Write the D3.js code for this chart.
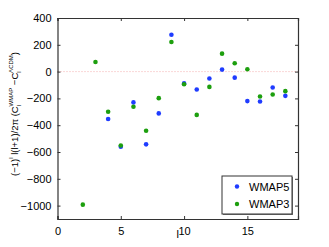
<!DOCTYPE html>
<meta charset="utf-8">
<style>

body {
  margin: 0;
  background: #fff;
}

text {
  font-family: "Liberation Sans", Arial, sans-serif;
  fill: #000;
}

.axis path, .axis line {
  stroke: #333;
}

</style>
<body>
<script src="https://d3js.org/d3.v7.min.js"></script>
<script>

var multipoles = [2, 3, 4, 5, 6, 7, 8, 9, 10, 11, 12, 13, 14, 15, 16, 17, 18];
// l=2,3 of WMAP5 sit under the WMAP3 dots and cannot be read
var wmap5 = [null, null, -354, -560, -230, -543, -312, 275, -88, -134, -52, 15, -45, -220, -223, -119, -181];
var wmap3 = [-993, 72, -300, -552, -262, -441, -198, 221, -94, -323, -114, 134, 62, 18, -186, -171, -146];
var xTicks = [0, 5, 10, 15];
var yTicks = [-1000, -800, -600, -400, -200, 0, 200, 400];

var width = 329,
    height = 247,
    margin = {top: 18, right: 31, bottom: 28, left: 57.5};

var x = d3.scaleLinear()
    .domain([0, 19])
    .range([margin.left, width - margin.right]);

var y = d3.scaleLinear()
    .domain([-1100, 400])
    .range([height - margin.bottom, margin.top]);

var svg = d3.select("body").append("svg")
    .attr("width", width)
    .attr("height", height)
    .style("display", "block");

// zero line
svg.append("line")
    .attr("x1", x(0)).attr("x2", x(19))
    .attr("y1", y(0)).attr("y2", y(0))
    .attr("stroke", "#f4b0b0")
    .attr("stroke-width", 1)
    .attr("stroke-dasharray", "1,2");

var fmt = function(d) { return d < 0 ? "\u2212" + Math.abs(d) : d; };

svg.append("g")
    .attr("class", "axis")
    .attr("transform", "translate(0," + y.range()[0] + ")")
    .call(d3.axisBottom(x).tickValues(xTicks).tickSize(-3).tickPadding(8))
    .call(g => g.selectAll("text").attr("font-size", 11).attr("font-family", "Liberation Sans"));

svg.append("g")
    .attr("class", "axis")
    .attr("transform", "translate(0," + y.range()[1] + ")")
    .call(d3.axisTop(x).tickValues(xTicks).tickSize(-3).tickFormat(""));

svg.append("g")
    .attr("class", "axis")
    .attr("transform", "translate(" + x.range()[0] + ",0)")
    .call(d3.axisLeft(y).tickValues(yTicks).tickSize(-3).tickPadding(6).tickFormat(fmt))
    .call(g => g.selectAll("text").attr("font-size", 11).attr("font-family", "Liberation Sans"));

svg.append("g")
    .attr("class", "axis")
    .attr("transform", "translate(" + x.range()[1] + ",0)")
    .call(d3.axisRight(y).tickValues(yTicks).tickSize(-3).tickFormat(""));

svg.selectAll(".axis path").attr("stroke-width", 1.2);

// points
var series = [
  {name: "WMAP5", values: wmap5, color: "#1f3cff"},
  {name: "WMAP3", values: wmap3, color: "#1d9f0e"}
];

series.forEach(function(s) {
  var pts = s.values.map((v, i) => ({l: multipoles[i], v: v})).filter(d => d.v !== null);
  svg.append("g").selectAll("circle")
      .data(pts)
      .enter().append("circle")
      .attr("cx", d => x(d.l))
      .attr("cy", d => y(d.v))
      .attr("r", 2.3)
      .attr("fill", s.color);
});

// legend
var lg = svg.append("g").attr("transform", "translate(222,176)");
lg.append("rect").attr("x", 1).attr("y", 1).attr("width", 70).attr("height", 38).attr("fill", "#777");
lg.append("rect").attr("width", 70).attr("height", 38).attr("fill", "#fff").attr("stroke", "#333");
series.forEach(function(s, i) {
  lg.append("circle").attr("cx", 15).attr("cy", 10.5 + i * 17.5).attr("r", 2.2).attr("fill", s.color);
  lg.append("text").attr("x", 27).attr("y", 14.5 + i * 17.5).attr("font-size", 11).text(s.name);
});

// x label
svg.append("text")
    .attr("x", x(9.5)).attr("y", 238)
    .attr("text-anchor", "middle")
    .attr("font-size", 11)
    .text("l");

// y label
var yl = svg.append("text")
    .attr("transform", "translate(18,114) rotate(-90)")
    .attr("text-anchor", "middle")
    .attr("font-size", 9.5);
yl.append("tspan").text("(\u22121)");
yl.append("tspan").attr("dy", -5).attr("font-size", 6).text("l");
yl.append("tspan").attr("dy", 5).text(" l(l+1)/2\u03c0 (C");
yl.append("tspan").attr("dy", 3).attr("font-size", 6).text("l");
yl.append("tspan").attr("dy", -8).attr("dx", -1.5).attr("font-size", 6).text("WMAP");
yl.append("tspan").attr("dy", 5).text(" \u2212C");
yl.append("tspan").attr("dy", 3).attr("font-size", 6).text("l");
yl.append("tspan").attr("dy", -8).attr("dx", -1.5).attr("font-size", 6).text("\u039bCDM");
yl.append("tspan").attr("dy", 5).text(")");

</script>
</body>
